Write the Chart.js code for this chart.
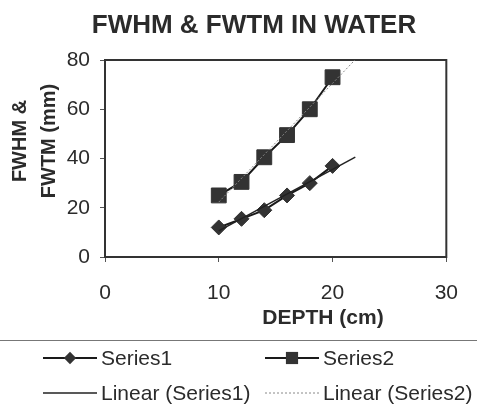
<!DOCTYPE html>
<html>
<head>
<meta charset="utf-8">
<script src="https://cdn.jsdelivr.net/npm/chart.js@4.4.0/dist/chart.umd.min.js"></script>
<style>
  html, body { margin: 0; padding: 0; background: #fff; }
</style>
</head>
<body>
<canvas id="myChart" width="477" height="404"></canvas>
<script>
// values
const depth = [10, 12, 14, 16, 18, 20];
const series1 = [12, 15.5, 19, 25, 30, 37];
const series2 = [25, 30.5, 40.5, 49.5, 60, 73];
const xTicks = [0, 10, 20, 30];
const yTicks = [0, 20, 40, 60, 80];
const trendEnd = 22; // excel trendline forecast forward to 22 cm

const chartTitle = 'FWHM & FWTM IN WATER';
const yTitle = ['FWHM &', 'FWTM (mm)'];
const xTitle = 'DEPTH (cm)';

const FONT = '"Liberation Sans", Arial, sans-serif';
const INK = '#2b2b2b';

// least squares line, like excel's "Linear" trendline
function linearTrend(xs, ys) {
  const n = xs.length;
  const mx = xs.reduce((a, b) => a + b, 0) / n;
  const my = ys.reduce((a, b) => a + b, 0) / n;
  let sxy = 0, sxx = 0;
  for (let i = 0; i < n; i++) {
    sxy += (xs[i] - mx) * (ys[i] - my);
    sxx += (xs[i] - mx) * (xs[i] - mx);
  }
  const slope = sxy / sxx;
  const b = my - slope * mx;
  const x0 = xs[0];
  return [{x: x0, y: slope * x0 + b}, {x: trendEnd, y: slope * trendEnd + b}];
}

const toPoints = (xs, ys) => xs.map((x, i) => ({x: x, y: ys[i]}));

const frameBox = {
  id: 'frameBox',
  beforeDatasetsDraw(chart) {
    const a = chart.chartArea, ctx = chart.ctx;
    ctx.save();
    ctx.strokeStyle = '#333';
    ctx.lineWidth = 2;
    ctx.strokeRect(a.left, a.top, a.right - a.left, a.bottom - a.top);
    ctx.restore();
  }
};

function marker(ctx, style, x, y, r) {
  ctx.beginPath();
  if (style === 'rectRot') {
    ctx.moveTo(x, y - r); ctx.lineTo(x + r, y); ctx.lineTo(x, y + r); ctx.lineTo(x - r, y);
  } else {
    const s = r * Math.SQRT1_2;
    ctx.rect(x - s, y - s, 2 * s, 2 * s);
  }
  ctx.closePath();
  ctx.fill();
}

const texts = {
  id: 'texts',
  afterDraw(chart) {
    const ctx = chart.ctx;
    ctx.save();
    ctx.fillStyle = INK;

    // title
    ctx.font = 'bold 26px ' + FONT;
    ctx.textAlign = 'center';
    ctx.textBaseline = 'alphabetic';
    ctx.fillText(chartTitle, 254, 33);

    // x axis title
    ctx.font = 'bold 21px ' + FONT;
    ctx.fillText(xTitle, 323, 324);

    // y axis title, two rotated lines
    ctx.font = 'bold 20px ' + FONT;
    ctx.textBaseline = 'middle';
    [20, 49].forEach((cx, i) => {
      ctx.save();
      ctx.translate(cx, 141);
      ctx.rotate(-Math.PI / 2);
      ctx.fillText(yTitle[i], 0, 0);
      ctx.restore();
    });

    // separator above legend
    ctx.strokeStyle = '#777';
    ctx.lineWidth = 1;
    ctx.beginPath();
    ctx.moveTo(0, 340.5);
    ctx.lineTo(477, 340.5);
    ctx.stroke();

    // legend, 2 x 2 like excel
    const cols = [43, 265];
    const rows = [358, 393];
    ctx.font = '21px ' + FONT;
    ctx.textAlign = 'left';
    chart.data.datasets.forEach((ds, i) => {
      const x = cols[i % 2], y = rows[Math.floor(i / 2)];
      ctx.save();
      ctx.strokeStyle = ds.borderColor;
      ctx.lineWidth = ds.borderWidth;
      ctx.setLineDash(ds.borderDash || []);
      ctx.beginPath();
      ctx.moveTo(x, y);
      ctx.lineTo(x + 54, y);
      ctx.stroke();
      if (ds.pointRadius > 0) {
        ctx.fillStyle = ds.pointBackgroundColor;
        marker(ctx, ds.pointStyle, x + 27, y, ds.pointRadius * 0.82);
      }
      ctx.restore();
      ctx.fillText(ds.label, x + 58, y + 1);
    });
    ctx.restore();
  }
};

const ctx = document.getElementById('myChart').getContext('2d');

new Chart(ctx, {
  type: 'scatter',
  data: {
    datasets: [{
      label: 'Series1',
      data: toPoints(depth, series1),
      showLine: true,
      borderColor: '#1a1a1a',
      borderWidth: 2,
      pointStyle: 'rectRot',
      pointRadius: 7.5,
      pointBackgroundColor: '#333',
      pointBorderColor: '#333',
      pointBorderWidth: 1,
      order: 3
    }, {
      label: 'Series2',
      data: toPoints(depth, series2),
      showLine: true,
      borderColor: '#1a1a1a',
      borderWidth: 2,
      pointStyle: 'rect',
      pointRadius: 10.5,
      pointBackgroundColor: '#333',
      pointBorderColor: '#333',
      pointBorderWidth: 1,
      order: 4
    }, {
      label: 'Linear (Series1)',
      data: linearTrend(depth, series1),
      showLine: true,
      borderColor: '#222',
      borderWidth: 1.5,
      pointRadius: 0,
      order: 1
    }, {
      label: 'Linear (Series2)',
      data: linearTrend(depth, series2),
      showLine: true,
      borderColor: '#888',
      borderWidth: 1,
      borderDash: [2, 2],
      pointRadius: 0,
      order: 2
    }]
  },
  options: {
    responsive: false,
    animation: false,
    layout: { padding: { left: 0, right: 14, top: 60, bottom: 87 } },
    plugins: {
      legend: { display: false },
      title: { display: false },
      tooltip: { enabled: false }
    },
    scales: {
      x: {
        type: 'linear',
        min: xTicks[0],
        max: xTicks[xTicks.length - 1],
        afterBuildTicks: s => { s.ticks = xTicks.map(v => ({value: v})); },
        afterFit: s => { s.height = 60; },
        border: { display: false },
        grid: { drawOnChartArea: false, tickLength: 5, color: '#555' },
        ticks: { padding: 19, color: INK, font: { family: FONT, size: 21 }, maxRotation: 0 }
      },
      y: {
        type: 'linear',
        min: yTicks[0],
        max: yTicks[yTicks.length - 1],
        afterBuildTicks: s => { s.ticks = yTicks.map(v => ({value: v})); },
        afterFit: s => { s.width = 105; },
        border: { display: false },
        grid: { drawOnChartArea: false, tickLength: 5, color: '#555' },
        ticks: { padding: 10, color: INK, font: { family: FONT, size: 21 } }
      }
    }
  },
  plugins: [frameBox, texts]
});
</script>
</body>
</html>
